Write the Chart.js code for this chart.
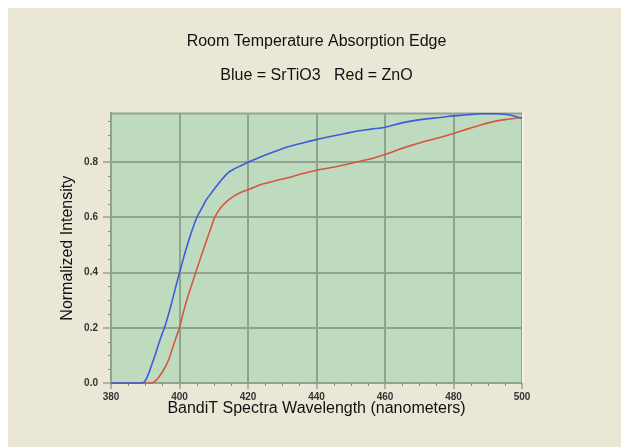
<!DOCTYPE html>
<html>
<head>
<meta charset="utf-8">
<script src="https://cdn.jsdelivr.net/npm/chart.js@4.4.1/dist/chart.umd.min.js"></script>
<style>
  html, body { margin: 0; padding: 0; background: #ffffff; }
  #wrap { width: 621px; height: 447px; position: relative; }
</style>
</head>
<body>
<div id="wrap"><canvas id="c" width="621" height="447"></canvas></div>
<script>
// Wavelength samples (nm)
const wavelengths = [380,385,389,390,391,392,393,394,395,396,397,398,399,400,401,402,403,404,405,406,
                     407,408,409,410,412,414,416,418,420,424,428,432,436,440,444,448,452,456,460,464,
                     468,472,476,480,484,488,492,496,500];
// Blue = SrTiO3
const srtio3 = [0,0,0,0.008,0.035,0.07,0.105,0.145,0.18,0.215,0.258,0.305,0.353,0.40,0.445,0.488,0.528,0.565,0.598,0.622,
                0.645,0.667,0.684,0.70,0.732,0.76,0.776,0.788,0.80,0.821,0.84,0.857,0.87,0.882,0.893,0.903,0.913,0.92,0.927,0.94,
                0.95,0.957,0.962,0.968,0.972,0.976,0.976,0.972,0.96];
// Red = ZnO
const zno = [0,0,0,0,0,0,0.008,0.022,0.04,0.062,0.09,0.128,0.165,0.20,0.25,0.295,0.335,0.372,0.41,0.448,
             0.485,0.52,0.555,0.592,0.635,0.66,0.678,0.691,0.70,0.72,0.733,0.745,0.759,0.771,0.78,0.79,0.802,0.813,0.828,0.846,
             0.862,0.877,0.89,0.904,0.92,0.935,0.948,0.956,0.962];
const xTickLabels = [380,400,420,440,460,480,500];
const yTickLabels = [0.0,0.2,0.4,0.6,0.8];

const titleText = 'Room Temperature Absorption Edge';
const subtitleText = 'Blue = SrTiO3   Red = ZnO';

const FONT = "'Liberation Sans', Arial, sans-serif";
const GRID = '#8fa38f';

function isMajorX(v){ return xTickLabels.some(t => Math.abs(t - v) < 1e-6); }
function isMajorY(v){ return yTickLabels.some(t => Math.abs(t - v) < 1e-6); }

const bgPlugin = {
  id: 'bg',
  beforeDraw(chart) {
    const {ctx, chartArea: a} = chart;
    ctx.save();
    ctx.fillStyle = '#ffffff';
    ctx.fillRect(0, 0, chart.width, chart.height);
    ctx.fillStyle = '#ebe7d6';
    ctx.fillRect(8, 8, chart.width - 8, chart.height - 8);
    ctx.fillStyle = '#bfdbbf';
    ctx.fillRect(a.left, a.top, a.right - a.left, a.bottom - a.top);
    ctx.restore();
  },
  beforeDatasetsDraw(chart) {
    const {ctx, chartArea: a, scales} = chart;
    ctx.save();
    ctx.strokeStyle = GRID;
    ctx.lineWidth = 2;
    ctx.beginPath();
    ctx.moveTo(a.left, a.top); ctx.lineTo(a.right, a.top);
    ctx.stroke();
    ctx.strokeStyle = '#f4f2ea';
    ctx.lineWidth = 2;
    ctx.beginPath();
    ctx.moveTo(a.right + 1, a.top); ctx.lineTo(a.right + 1, a.bottom);
    ctx.stroke();
    ctx.strokeStyle = '#8a8a80';
    ctx.lineWidth = 1;
    scales.x.ticks.forEach(t => {
      if (!isMajorX(t.value)) {
        const px = Math.round(scales.x.getPixelForValue(t.value)) + 0.5;
        ctx.beginPath(); ctx.moveTo(px, a.bottom); ctx.lineTo(px, a.bottom + 3); ctx.stroke();
      }
    });
    scales.y.ticks.forEach(t => {
      if (!isMajorY(t.value)) {
        const py = Math.round(scales.y.getPixelForValue(t.value)) + 0.5;
        ctx.beginPath(); ctx.moveTo(a.left - 3, py); ctx.lineTo(a.left, py); ctx.stroke();
      }
    });
    ctx.restore();
  }
};

new Chart(document.getElementById('c'), {
  type: 'line',
  data: {
    datasets: [
      { label: 'SrTiO3', data: wavelengths.map((w,i) => ({x: w, y: srtio3[i]})),
        borderColor: '#3d5cd8', borderWidth: 1.6, pointRadius: 0, cubicInterpolationMode: 'monotone', clip: 4 },
      { label: 'ZnO', data: wavelengths.map((w,i) => ({x: w, y: zno[i]})),
        borderColor: '#d6563f', borderWidth: 1.6, pointRadius: 0, cubicInterpolationMode: 'monotone', clip: 4 }
    ]
  },
  options: {
    responsive: false,
    animation: false,
    devicePixelRatio: 1,
    layout: { padding: { left: 8, right: 99, top: 0, bottom: 24 } },
    plugins: {
      legend: { display: false },
      tooltip: { enabled: false },
      title: { display: true, fullSize: false, text: titleText, color: '#111',
               font: { family: FONT, size: 16, weight: 'normal' },
               padding: { top: 32, bottom: 8 } },
      subtitle: { display: true, fullSize: false, text: subtitleText, color: '#111',
               font: { family: FONT, size: 16, weight: 'normal' },
               padding: { top: 7, bottom: 28 } }
    },
    scales: {
      x: {
        type: 'linear', min: 380, max: 500,
        afterFit(s) { s.height = 40; },
        ticks: { stepSize: 5, autoSkip: false, maxRotation: 0, padding: 2,
                 color: '#333', font: { family: FONT, size: 10, weight: 'bold' },
                 callback: v => isMajorX(v) ? String(v) : '' },
        grid: { color: c => isMajorX(c.tick.value) ? GRID : 'rgba(0,0,0,0)',
                tickColor: c => isMajorX(c.tick.value) ? '#7a7a70' : 'rgba(0,0,0,0)',
                lineWidth: 2, tickLength: 6, tickWidth: 1 },
        border: { display: true, color: GRID, width: 2 },
        title: { display: true, text: 'BandiT Spectra Wavelength (nanometers)', color: '#111',
                 font: { family: FONT, size: 16, weight: 'normal' },
                 padding: { top: 0, bottom: 5 } }
      },
      y: {
        type: 'linear', min: 0, max: 0.977,
        afterFit(s) { s.width = 103; },
        ticks: { stepSize: 0.05, includeBounds: false, autoSkip: false, padding: 5,
                 color: '#333', font: { family: FONT, size: 10, weight: 'bold' },
                 callback: v => isMajorY(v) ? Number(v).toFixed(1) : '' },
        grid: { color: c => isMajorY(c.tick.value) ? GRID : 'rgba(0,0,0,0)',
                tickColor: c => isMajorY(c.tick.value) ? '#7a7a70' : 'rgba(0,0,0,0)',
                lineWidth: 2, tickLength: 8, tickWidth: 1 },
        border: { display: true, color: GRID, width: 2 },
        title: { display: true, text: 'Normalized Intensity', color: '#111',
                 font: { family: FONT, size: 16, weight: 'normal' },
                 padding: { top: 50, bottom: 0 } }
      }
    }
  },
  plugins: [bgPlugin]
});
</script>
</body>
</html>
